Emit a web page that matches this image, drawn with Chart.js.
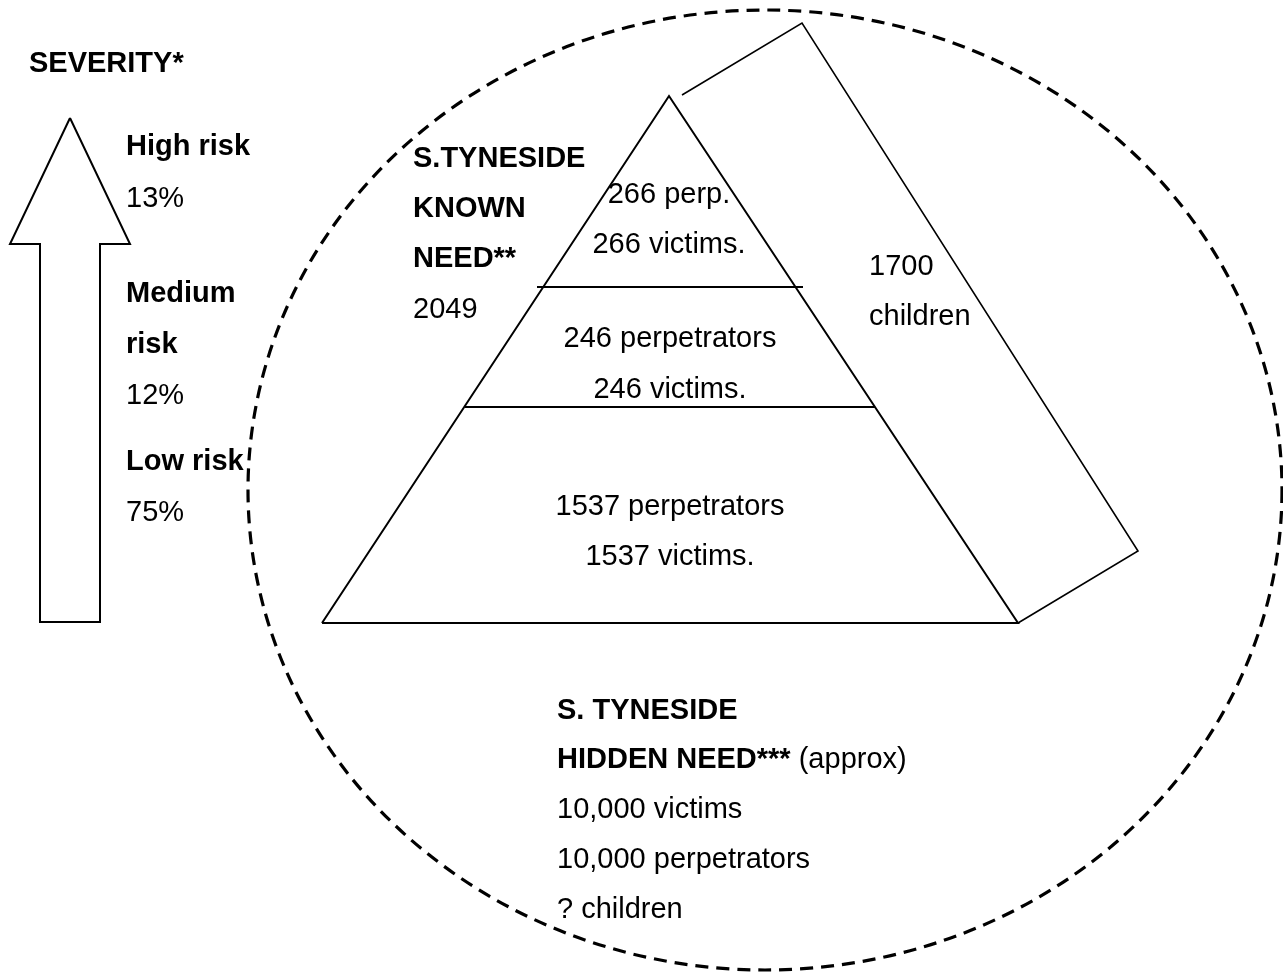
<!DOCTYPE html>
<html>
<head>
<meta charset="utf-8">
<title>South Tyneside domestic abuse need</title>
<script src="https://cdn.jsdelivr.net/npm/chart.js@4/dist/chart.umd.min.js"></script>
<style>
  body { margin: 0; background: #fff; }
  #wrap { width: 1283px; height: 972px; position: relative; }
</style>
</head>
<body>
<div id="wrap"><canvas id="needChart"></canvas></div>
<script>
// Valores do diagrama
const severityLevels = ["High risk", "Medium risk", "Low risk"];
const severityShares = [13, 12, 75];
const tierPerpetrators = [266, 246, 1537];
const tierVictims = [266, 246, 1537];
const knownTotal = 2049;
const knownChildren = 1700;
const hiddenVictims = 10000;
const hiddenPerpetrators = 10000;

// Contornos das formas (unidades do plano 0..1283 x 0..972)
const arrowOutline = [[70, 118], [130, 244], [100, 244], [100, 622], [40, 622], [40, 244], [10, 244], [70, 118]];
const pyramidOutline = [[322, 623], [669, 96], [1018, 623], [322, 623]];
const tierLine1 = [[537, 287], [803, 287]];
const tierLine2 = [[465, 407], [875, 407]];
const prismOutline = [[682, 95], [802, 23], [1138, 551], [1018, 623]];
const hiddenEllipse = [765, 490, 517, 480]; // centro x, centro y, raio x, raio y

function pts(list) {
    return list.map(p => ({ x: p[0], y: p[1] }));
}

function shape(list, width) {
    return {
        data: pts(list),
        showLine: true,
        borderColor: "#000",
        borderWidth: width,
        pointRadius: 0,
        fill: false,
        tension: 0,
        borderJoinStyle: "miter",
        clip: false
    };
}

const fmt = n => n.toLocaleString("en-US");
const BOLD = "bold 29px 'Liberation Sans', Arial, sans-serif";
const REG = "29px 'Liberation Sans', Arial, sans-serif";

// Textos: [texto, x, y, fonte, alinhamento]
const labels = [
    ["SEVERITY*", 29, 72, BOLD, "left"],
    [severityLevels[0], 126, 155, BOLD, "left"],
    [severityShares[0] + "%", 126, 207, REG, "left"],
    [severityLevels[1].split(" ")[0], 126, 302, BOLD, "left"],
    [severityLevels[1].split(" ")[1], 126, 353, BOLD, "left"],
    [severityShares[1] + "%", 126, 404, REG, "left"],
    [severityLevels[2], 126, 470, BOLD, "left"],
    [severityShares[2] + "%", 126, 521, REG, "left"],

    ["S.TYNESIDE", 413, 167, BOLD, "left"],
    ["KNOWN", 413, 217, BOLD, "left"],
    ["NEED**", 413, 267, BOLD, "left"],
    [String(knownTotal), 413, 318, REG, "left"],

    [tierPerpetrators[0] + " perp.", 669, 203, REG, "center"],
    [tierVictims[0] + " victims.", 669, 253, REG, "center"],
    [tierPerpetrators[1] + " perpetrators", 670, 347, REG, "center"],
    [tierVictims[1] + " victims.", 670, 398, REG, "center"],
    [tierPerpetrators[2] + " perpetrators", 670, 515, REG, "center"],
    [tierVictims[2] + " victims.", 670, 565, REG, "center"],

    [String(knownChildren), 869, 275, REG, "left"],
    ["children", 869, 325, REG, "left"],

    ["S. TYNESIDE", 557, 719, BOLD, "left"],
    [fmt(hiddenVictims) + " victims", 557, 818, REG, "left"],
    [fmt(hiddenPerpetrators) + " perpetrators", 557, 868, REG, "left"],
    ["? children", 557, 918, REG, "left"]
];

// Plugin para a elipse tracejada e os textos
const diagramPlugin = {
    id: "diagram",
    beforeDatasetsDraw(chart) {
        const { ctx, scales } = chart;
        const cx = scales.x.getPixelForValue(hiddenEllipse[0]);
        const cy = scales.y.getPixelForValue(hiddenEllipse[1]);
        const rx = Math.abs(scales.x.getPixelForValue(hiddenEllipse[0] + hiddenEllipse[2]) - cx);
        const ry = Math.abs(scales.y.getPixelForValue(hiddenEllipse[1] + hiddenEllipse[3]) - cy);
        ctx.save();
        ctx.strokeStyle = "#000";
        ctx.lineWidth = 3.2;
        ctx.setLineDash([13, 8]);
        ctx.beginPath();
        ctx.ellipse(cx, cy, rx, ry, 0, 0, Math.PI * 2);
        ctx.stroke();
        ctx.restore();
    },
    afterDatasetsDraw(chart) {
        const { ctx, scales } = chart;
        ctx.save();
        ctx.fillStyle = "#000";
        ctx.textBaseline = "alphabetic";
        labels.forEach(l => {
            ctx.font = l[3];
            ctx.textAlign = l[4];
            ctx.fillText(l[0], scales.x.getPixelForValue(l[1]), scales.y.getPixelForValue(l[2]));
        });
        // linha com negrito + normal
        const x0 = scales.x.getPixelForValue(557);
        const y0 = scales.y.getPixelForValue(768);
        ctx.textAlign = "left";
        ctx.font = BOLD;
        const head = "HIDDEN NEED***";
        ctx.fillText(head, x0, y0);
        const w = ctx.measureText(head).width;
        ctx.font = REG;
        ctx.fillText(" (approx)", x0 + w, y0);
        ctx.restore();
    }
};

new Chart(document.getElementById("needChart"), {
    type: "scatter",
    data: {
        datasets: [
            shape(arrowOutline, 2),
            shape(pyramidOutline, 2),
            shape(tierLine1, 2),
            shape(tierLine2, 2),
            shape(prismOutline, 1.6)
        ]
    },
    options: {
        responsive: true,
        maintainAspectRatio: false,
        animation: false,
        layout: { padding: 0 },
        plugins: { legend: { display: false }, tooltip: { enabled: false } },
        scales: {
            x: { type: "linear", min: 0, max: 1283, display: false },
            y: { type: "linear", min: 0, max: 972, reverse: true, display: false }
        }
    },
    plugins: [diagramPlugin]
});
</script>
</body>
</html>
